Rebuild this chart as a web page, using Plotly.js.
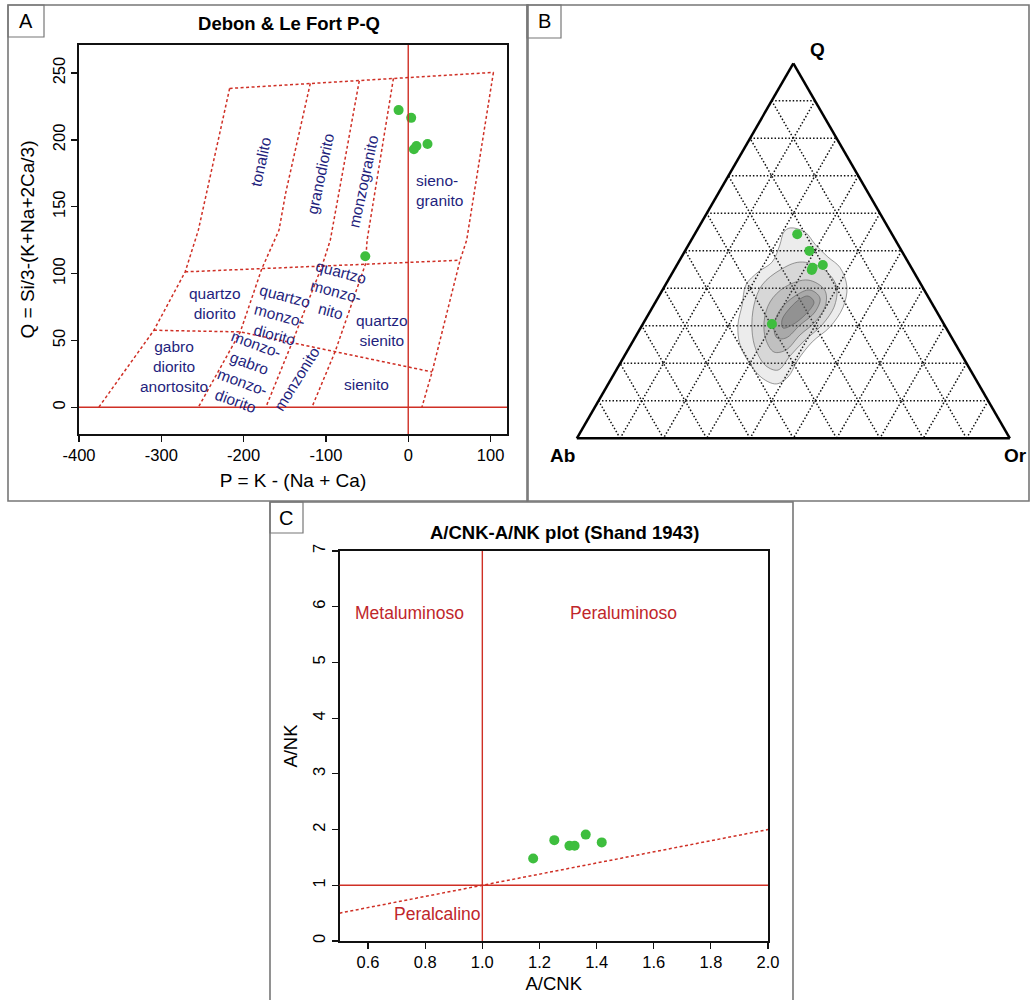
<!DOCTYPE html>
<html><head><meta charset="utf-8">
<script src="https://cdn.plot.ly/plotly-3.0.1.min.js"></script>
<style>body{margin:0;background:#fff}#chart{width:1030px;height:1000px}</style>
</head><body><div id="chart"></div>
<script>
// ---------- Panel A: Debon & Le Fort P-Q ----------
const pqTickVals = [-400, -300, -200, -100, 0, 100];
const pqTickText = ['-400', '-300', '-200', '-100', '0', '100'];
const qTickVals = [0, 50, 100, 150, 200, 250];
const qTickText = ['0', '50', '100', '150', '200', '250'];

const sampleP = [-11.7, 3.6, 6.9, 10.0, 23.4, -52.2];
const sampleQ = [222.3, 216.5, 193.0, 195.4, 196.9, 113.0];

const topLineP = [-217, 104];
const topLineQ = [238.5, 250.5];
const line1P = [-217, -255, -271, -309, -376];
const line1Q = [238.5, 132.5, 101.3, 57.6, 0];
const line2P = [-119, -149, -157, -178, -204, -255];
const line2Q = [242.2, 160, 132.5, 103.5, 56.4, 0];
const line3P = [-59.5, -94.7, -104.7, -141, -173];
const line3Q = [244.2, 125, 105.8, 48.5, 0];
const line4P = [-18, -50, -52, -88.6, -117];
const line4Q = [246, 125, 107, 42, 0];
const line5P = [103.5, 71, 63, 29, 16.6];
const line5Q = [250.5, 125, 110, 26.4, 0];
const midLineP = [-271, 63];
const midLineQ = [101.3, 110];
const lowLineP = [-309, -204, 29];
const lowLineQ = [57.6, 56.4, 26.4];

const fieldNames = ['tonalito', 'granodiorito', 'monzogranito', 'sieno-<br>granito',
  'quartzo<br>diorito', 'quartzo<br>monzo-<br>diorito', 'quartzo<br>monzo-<br>nito', 'quartzo<br>sienito',
  'gabro<br>diorito<br>anortosito', 'monzo-<br>gabro<br>monzo-<br>diorito', 'monzonito', 'sienito'];
const fieldP = [-178.8, -106.8, -54.2, 6.5, -235, -155.3, -87.8, -31.9, -284.8, -197, -135, -50.6];
const fieldQ = [183.6, 175, 168.6, 162.4, 78, 68.9, 86.3, 57.6, 30.2, 25.7, 21.3, 17.2];

// ---------- Panel B: Q-Ab-Or ternary ----------
const terQ  = [0.544, 0.4995, 0.449, 0.455, 0.462, 0.305];
const terAb = [0.219, 0.213, 0.233, 0.228, 0.201, 0.397];
const terOr = [0.237, 0.287, 0.318, 0.317, 0.337, 0.298];

const dens1Q  = [0.561,0.550,0.517,0.4835,0.4555,0.4035,0.350,0.297,0.257,0.209,0.1635,0.145,0.161,0.198,0.249,0.302,0.3555,0.409,0.4435,0.470,0.5155,0.550,0.561];
const dens1Or = [0.212,0.252,0.292,0.338,0.380,0.422,0.440,0.436,0.415,0.406,0.406,0.388,0.347,0.301,0.2525,0.221,0.204,0.186,0.197,0.216,0.211,0.203,0.212];
const dens1Ab = [0.227,0.198,0.191,0.1785,0.1645,0.1745,0.210,0.267,0.328,0.385,0.4305,0.467,0.492,0.501,0.4985,0.477,0.4405,0.405,0.3595,0.314,0.2735,0.247,0.227];
const dens2Q  = [0.470,0.454,0.409,0.3555,0.302,0.262,0.2195,0.182,0.193,0.2355,0.289,0.3555,0.409,0.4488,0.470];
const dens2Or = [0.280,0.339,0.394,0.418,0.415,0.396,0.3825,0.3736,0.3405,0.296,0.260,0.2314,0.2233,0.2448,0.280];
const dens2Ab = [0.250,0.207,0.197,0.2265,0.283,0.342,0.398,0.4444,0.4665,0.4685,0.451,0.4131,0.3677,0.3064,0.250];
const dens3Q  = [0.422,0.3955,0.3555,0.310,0.2755,0.2355,0.230,0.262,0.310,0.3635,0.4035,0.422];
const dens3Or = [0.3228,0.3745,0.3968,0.395,0.3776,0.3653,0.3404,0.3059,0.2773,0.2643,0.279,0.3228];
const dens3Ab = [0.2552,0.230,0.2477,0.295,0.3469,0.3992,0.4296,0.4321,0.4127,0.3722,0.3175,0.2552];
const dens4Q  = [0.3955,0.3741,0.3368,0.302,0.2675,0.2675,0.2995,0.3421,0.3795,0.3955];
const dens4Or = [0.3406,0.3744,0.3816,0.3644,0.3493,0.3285,0.3056,0.2981,0.314,0.3406];
const dens4Ab = [0.2639,0.2515,0.2816,0.3336,0.3832,0.404,0.3949,0.3598,0.3065,0.2639];
const dens5Q  = [0.3795,0.3635,0.3315,0.302,0.2941,0.3155,0.3475,0.3715,0.3795];
const dens5Or = [0.344,0.3659,0.3634,0.3459,0.329,0.316,0.3185,0.3296,0.344];
const dens5Ab = [0.2765,0.2706,0.3051,0.3521,0.3769,0.3685,0.334,0.2989,0.2765];

// ---------- Panel C: Shand A/CNK-A/NK ----------
const acnk = [1.178, 1.252, 1.305, 1.323, 1.362, 1.418];
const ank  = [1.48, 1.81, 1.71, 1.71, 1.91, 1.77];
const acnkTickVals = [0.6, 0.8, 1.0, 1.2, 1.4, 1.6, 1.8, 2.0];
const acnkTickText = ['0.6', '0.8', '1.0', '1.2', '1.4', '1.6', '1.8', '2.0'];
const ankTickVals = [0, 1, 2, 3, 4, 5, 6, 7];
const shandLineX = [0.5, 2.0];
const shandLineY = [0.5, 2.0];
const shandNames = ['Metaluminoso', 'Peraluminoso', 'Peralcalino'];
const shandX = [0.744, 1.494, 0.843];
const shandY = [5.89, 5.89, 0.48];

// ---------- build ----------
const RED = '#cf2f25';
const GREEN = 'rgb(62,190,62)';
const NAVY = '#1f1f7d';
const dashLine = {color: RED, width: 1.5, dash: '3px,2.5px'};

const traces = [];
[[topLineP, topLineQ], [line1P, line1Q], [line2P, line2Q], [line3P, line3Q], [line4P, line4Q],
 [line5P, line5Q], [midLineP, midLineQ], [lowLineP, lowLineQ]].forEach(([p, q]) => {
  traces.push({type: 'scatter', mode: 'lines', x: p, y: q, xaxis: 'x', yaxis: 'y', line: dashLine, hoverinfo: 'skip'});
});
traces.push({type: 'scatter', mode: 'markers', x: sampleP, y: sampleQ, xaxis: 'x', yaxis: 'y',
  marker: {color: GREEN, size: 10, line: {width: 0}}});

const densAlpha = [0.12, 0.15, 0.2, 0.25, 0.32];
[[dens1Q, dens1Ab, dens1Or], [dens2Q, dens2Ab, dens2Or], [dens3Q, dens3Ab, dens3Or],
 [dens4Q, dens4Ab, dens4Or], [dens5Q, dens5Ab, dens5Or]].forEach(([a, b, c], i) => {
  traces.push({type: 'scatterternary', mode: 'lines', a: a, b: b, c: c, fill: 'toself',
    fillcolor: 'rgba(100,100,100,' + densAlpha[i] + ')', line: {color: 'rgba(90,90,90,0.75)', width: 0.8, shape: 'spline', smoothing: 1},
    hoverinfo: 'skip'});
});
traces.push({type: 'scatterternary', mode: 'markers', a: terQ, b: terAb, c: terOr,
  marker: {color: GREEN, size: 10, line: {width: 0}}});

traces.push({type: 'scatter', mode: 'lines', x: shandLineX, y: shandLineY, xaxis: 'x2', yaxis: 'y2', line: dashLine, hoverinfo: 'skip'});
traces.push({type: 'scatter', mode: 'markers', x: acnk, y: ank, xaxis: 'x2', yaxis: 'y2',
  marker: {color: GREEN, size: 10, line: {width: 0}}});

function frameAxis(extra) {
  return Object.assign({showgrid: false, zeroline: false, showline: true, mirror: true,
    linecolor: '#111', linewidth: 1.6, ticks: 'outside', ticklen: 6, tickwidth: 1.2, tickcolor: '#111',
    tickfont: {size: 16.5, color: '#000'}, fixedrange: true}, extra);
}
function triAxis() {
  return {showgrid: true, gridcolor: '#111', gridwidth: 1.5, griddash: '1.5px,2px', showline: true,
    linecolor: '#000', linewidth: 2.5, ticks: '', showticklabels: false, tickmode: 'linear',
    tick0: 0, dtick: 0.1, title: {text: ''}, min: 0};
}

const W = 1030, H = 1000;
const px = v => v / W, py = v => 1 - v / H;
const box = (x0, y0, x1, y1, w) => ({type: 'rect', xref: 'paper', yref: 'paper', x0: px(x0), x1: px(x1), y0: py(y1), y1: py(y0),
  line: {color: '#777', width: w}, fillcolor: 'rgba(0,0,0,0)', layer: 'above'});

const shapes = [
  box(8, 5, 528, 501, 1.6), box(527, 5, 1029, 501, 1.6), box(270, 502, 793, 1010, 1.6),
  box(8, 5, 44, 37, 1.2), box(527, 5, 561, 38, 1.2), box(270, 502, 303, 533, 1.2),
  {type: 'line', xref: 'x', yref: 'y domain', x0: 0, x1: 0, y0: 0, y1: 1, line: {color: RED, width: 1.4}},
  {type: 'line', xref: 'x domain', yref: 'y', x0: 0, x1: 1, y0: 0, y1: 0, line: {color: RED, width: 1.4}},
  {type: 'line', xref: 'x2', yref: 'y2 domain', x0: 1, x1: 1, y0: 0, y1: 1, line: {color: RED, width: 1.4}},
  {type: 'line', xref: 'x2 domain', yref: 'y2', x0: 0, x1: 1, y0: 1, y1: 1, line: {color: RED, width: 1.4}}
];

const fieldAngles = [-78, -78, -78, 0, 0, 15, 15, 0, 0, 20, -58, 0];
const annotations = [];
fieldNames.forEach((t, i) => {
  annotations.push({xref: 'x', yref: 'y', x: fieldP[i], y: fieldQ[i], text: t, showarrow: false,
    textangle: fieldAngles[i], xanchor: i === 3 ? 'left' : 'center', align: i === 3 ? 'left' : 'center',
    font: {size: 15.5, color: NAVY}});
});
shandNames.forEach((t, i) => {
  annotations.push({xref: 'x2', yref: 'y2', x: shandX[i], y: shandY[i], text: t, showarrow: false,
    font: {size: 17.5, color: '#c0262a'}});
});
const paperText = (x, y, t, size) => ({xref: 'paper', yref: 'paper', x: px(x), y: py(y), text: t, showarrow: false,
  xanchor: 'center', yanchor: 'middle', font: {size: size, color: '#000'}});
annotations.push(paperText(26, 21, 'A', 20), paperText(544, 21, 'B', 20), paperText(286, 518, 'C', 20));
annotations.push(paperText(564, 532, '<b>A/CNK-A/NK plot (Shand 1943)</b>', 18.5));
annotations.push(paperText(817, 49, '<b>Q</b>', 19), paperText(562, 455, '<b>Ab</b>', 19), paperText(1015, 455, '<b>Or</b>', 19));

const layout = {
  width: W, height: H, margin: {l: 0, r: 0, t: 0, b: 0},
  paper_bgcolor: '#fff', plot_bgcolor: '#fff', showlegend: false, hovermode: false,
  font: {family: '"Liberation Sans", Arial, Helvetica, sans-serif', size: 15, color: '#000'},
  title: {text: '<b>Debon &amp; Le Fort P-Q</b>', x: px(289), xref: 'paper', xanchor: 'center',
    y: py(24), yref: 'paper', yanchor: 'middle', font: {size: 18.5, color: '#000'}},
  xaxis: frameAxis({domain: [px(79), px(507)], range: [-400, 120], anchor: 'y',
    tickmode: 'array', tickvals: pqTickVals, ticktext: pqTickText,
    title: {text: 'P = K - (Na + Ca)', font: {size: 19}, standoff: 10}}),
  yaxis: frameAxis({domain: [py(434), py(45)], range: [-20, 271], anchor: 'x', tickangle: -90,
    tickmode: 'array', tickvals: qTickVals, ticktext: qTickText,
    title: {text: 'Q = Si/3-(K+Na+2Ca/3)', font: {size: 19}, standoff: 10}}),
  xaxis2: frameAxis({domain: [px(339.5), px(768)], range: [0.5, 2.0], anchor: 'y2',
    tickmode: 'array', tickvals: acnkTickVals, ticktext: acnkTickText,
    title: {text: 'A/CNK', font: {size: 18.5}, standoff: 6}}),
  yaxis2: frameAxis({domain: [py(941), py(551)], range: [0, 7], anchor: 'x2', tickangle: -90,
    tickmode: 'array', tickvals: ankTickVals,
    title: {text: 'A/NK', font: {size: 18.5}, standoff: 8}}),
  ternary: {domain: {x: [px(576.7), px(1010)], y: [py(438.3), py(63.3)]}, sum: 1, bgcolor: 'rgba(0,0,0,0)',
    aaxis: triAxis(), baxis: triAxis(), caxis: triAxis()},
  shapes: shapes,
  annotations: annotations
};

Plotly.newPlot('chart', traces, layout, {displayModeBar: false, staticPlot: true});
</script>
</body></html>
